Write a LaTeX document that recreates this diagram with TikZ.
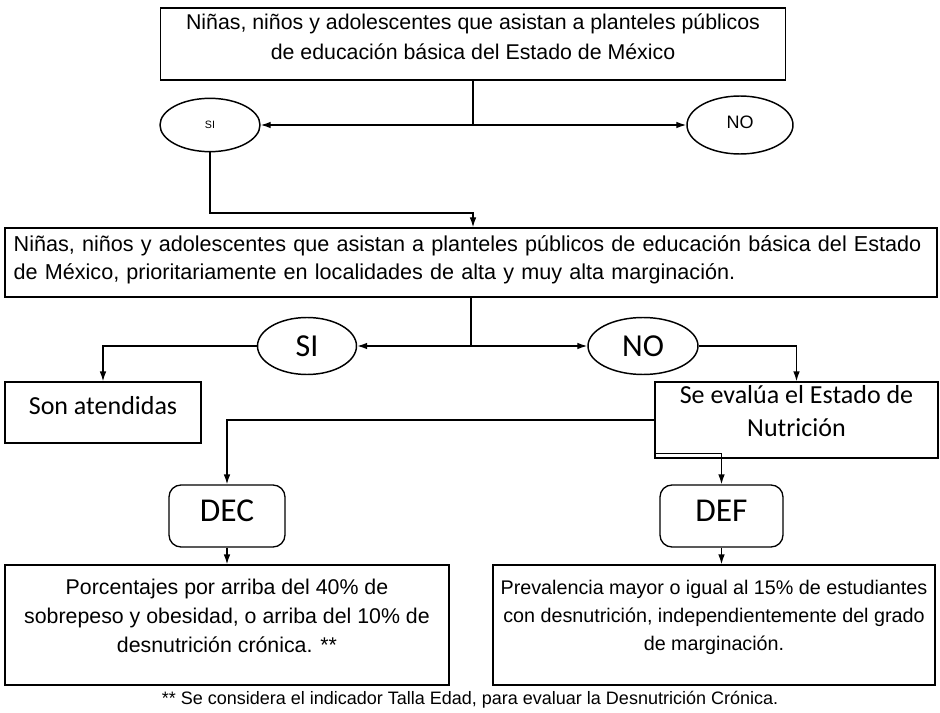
\documentclass[tikz,border=0pt]{standalone}
\usepackage{fontspec}
\setmainfont{Liberation Sans}
\newfontfamily\calibri{Carlito}
\usetikzlibrary{shapes.geometric,arrows.meta,calc}
\begin{document}
\begin{tikzpicture}[x=0.75pt,y=-0.75pt,
  line width=1pt,
  box/.style={draw, rectangle, inner sep=0pt, align=center},
  oval/.style={draw, ellipse, inner sep=0pt, line width=1.1pt},
  rbox/.style={draw, rectangle, rounded corners=9pt, inner sep=0pt},
  arr/.style={-{Latex[length=7.5pt,width=5pt]}},
]
\useasboundingbox (0,0) rectangle (940,713);
\node[box, minimum width=468.75pt, minimum height=54pt, text depth=11pt, font=\fontsize{16}{22.5}\selectfont] (b1) at (473,44)
  {Niñas, niños y adolescentes que asistan a planteles públicos\\de educación básica del Estado de México};
\node[oval, minimum width=75pt, minimum height=40pt, font=\fontsize{8}{9}\selectfont] (si1) at (210,125) {SI};
\node[oval, minimum width=79.5pt, minimum height=43.5pt, text depth=4pt, font=\fontsize{13.5}{15}\selectfont] (no1) at (740,125) {NO};
\coordinate (j1) at (473,125);
\coordinate (j2) at (473,213);
\node[box, minimum width=699pt, minimum height=51.75pt, text width=686pt, align=left, text depth=28pt, font=\fontsize{16.2}{20.5}\selectfont] (b2) at (471,262.5)
  {Niñas, niños y adolescentes que asistan a planteles públicos de educación básica del Estado\\de México, prioritariamente en localidades de alta y muy alta marginación.};
\draw (b1.south) -- (j1);
\draw[arr] (j1) -- (si1.east);
\draw[arr] (j1) -- (no1.west);
\draw[arr] (si1.south) |- (j2) -- (b2.north -| j2);
\coordinate (j3) at (471,346);
\node[oval, minimum width=74.25pt, minimum height=42.75pt, font=\calibri\fontsize{24}{26}\selectfont] (si2) at (307,346) {SI};
\node[oval, minimum width=82.5pt, minimum height=42.75pt, font=\calibri\fontsize{24}{26}\selectfont] (no2) at (643,346) {NO};
\draw (b2.south) -- (j3);
\draw[arr] (j3) -- (si2.east);
\draw[arr] (j3) -- (no2.west);
\node[box, minimum width=147pt, minimum height=45.75pt, text depth=10pt, font=\calibri\fontsize{19.5}{24}\selectfont] (son) at (103,412.5) {Son atendidas};
\node[box, minimum width=212.25pt, minimum height=57pt, text depth=14pt, font=\calibri\fontsize{19.5}{24.75}\selectfont] (eval) at (796.5,420) {Se evalúa el Estado de\\Nutrición};
\draw[arr] (si2.west) -| (son.north);
\draw[arr] (no2.east) -| (eval.north);
\node[rbox, minimum width=87pt, minimum height=46.5pt, text depth=8pt, font=\calibri\fontsize{25}{28}\selectfont] (dec) at (227,516) {DEC};
\node[rbox, minimum width=92.25pt, minimum height=46.5pt, text depth=8pt, font=\calibri\fontsize{25}{28}\selectfont] (def) at (721.5,516) {DEF};
\draw[arr] (eval.west) -| (dec.north);
\draw[arr] ($(eval.south west)+(0,-5)$) -| (def.north);
\node[box, minimum width=333pt, minimum height=90pt, text depth=14pt, font=\fontsize{16}{21.5}\selectfont] (p1) at (227,625)
  {Porcentajes por arriba del 40\% de\\sobrepeso y obesidad, o arriba del 10\% de\\desnutrición crónica. **};
\node[box, minimum width=331.5pt, minimum height=90pt, text depth=14pt, font=\fontsize{14.8}{21}\selectfont] (p2) at (714,625)
  {Prevalencia mayor o igual al 15\% de estudiantes\\con desnutrición, independientemente del grado\\de marginación.};
\draw[arr] (dec.south) -- (p1.north);
\draw[arr] (def.south) -- (def.south |- p2.north);
\node[font=\fontsize{13.5}{15}\selectfont, inner sep=0pt] (fn) at (470,700)
  {** Se considera el indicador Talla Edad, para evaluar la Desnutrición Crónica.};
\end{tikzpicture}
\end{document}
